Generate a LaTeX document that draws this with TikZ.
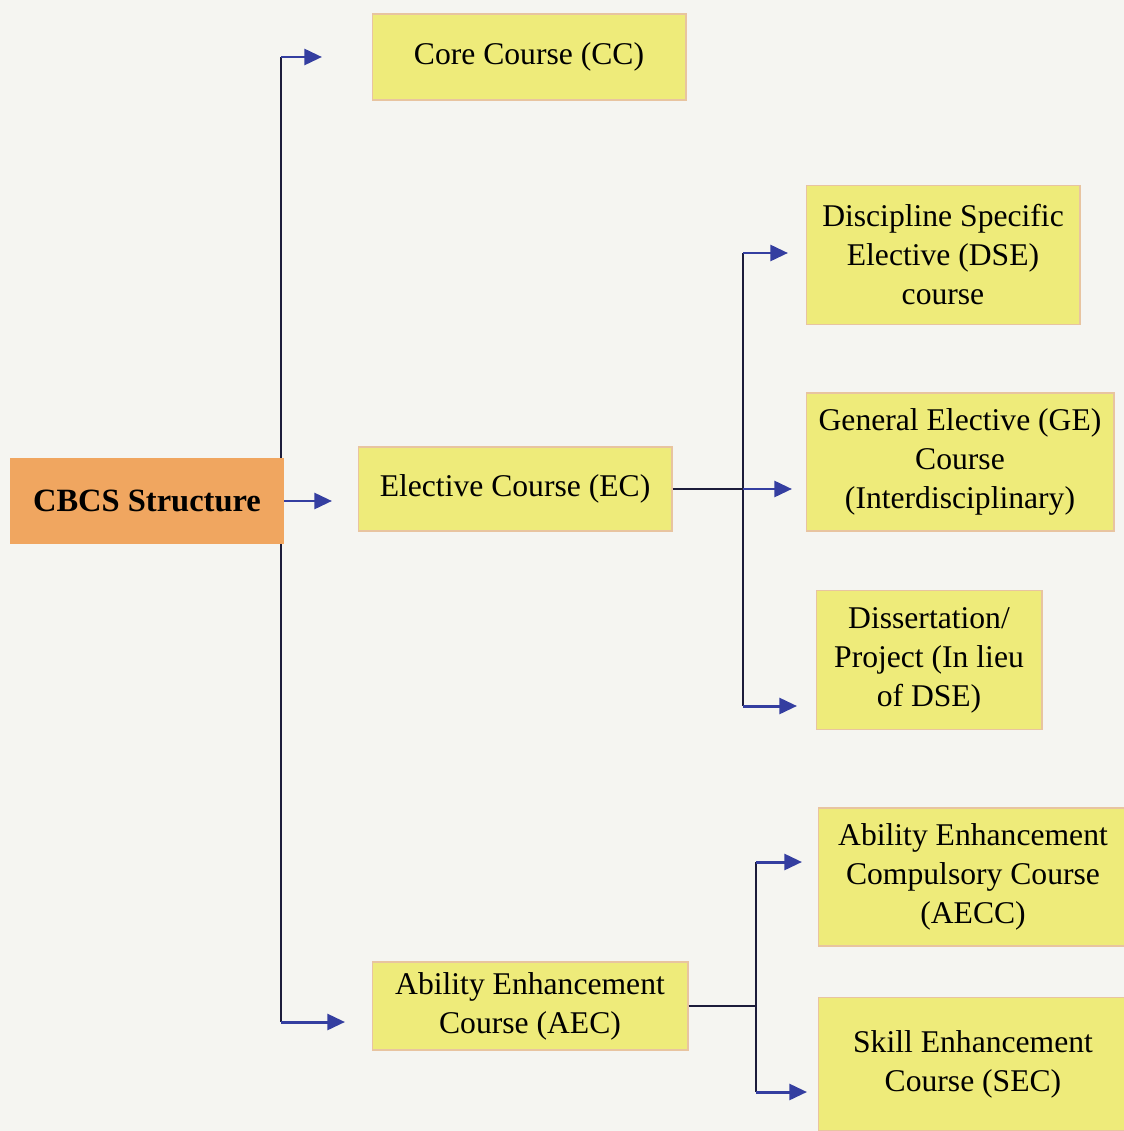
\documentclass[tikz,border=0pt]{standalone}
\usepackage{fontspec}
\setmainfont{Liberation Serif}
\usetikzlibrary{arrows.meta}
\definecolor{paper}{RGB}{245,245,241}
\definecolor{boxyellow}{RGB}{238,235,122}
\definecolor{boxedge}{RGB}{232,196,160}
\definecolor{rootorange}{RGB}{240,166,96}
\definecolor{linedark}{RGB}{28,28,58}
\definecolor{arrowblue}{RGB}{52,62,160}

\begin{document}
\begin{tikzpicture}[x=0.02cm,y=-0.02cm]
\tikzstyle{course}=[rectangle,align=center,draw=boxedge,fill=boxyellow,line width=0.6pt,inner sep=0pt,font=\fontsize{18}{22.2}\selectfont]
\tikzstyle{root}=[rectangle,align=center,fill=rootorange,inner sep=0pt,minimum width=5.48cm,minimum height=1.74cm,font=\fontsize{18.5}{22}\selectfont\bfseries]
\tikzstyle{trunk}=[draw=linedark,line width=1.3pt]
\tikzstyle{branch}=[-{Triangle[length=10pt,width=9pt]},draw=arrowblue,line width=1.7pt]

\useasboundingbox[fill=paper] (0,0) rectangle (1124,1131);

% junction points
\coordinate (trunk_top) at (281,57);
\coordinate (trunk_bottom) at (281,1022);
\coordinate (core_tip) at (322,57);
\coordinate (cbcs_tip) at (332,501);
\coordinate (ability_tip) at (345,1022);
\coordinate (ec_split) at (743,489);
\coordinate (dse_split) at (743,253);
\coordinate (diss_split) at (743,706);
\coordinate (dse_tip) at (788,253);
\coordinate (ge_tip) at (792,489);
\coordinate (diss_tip) at (797,706);
\coordinate (aec_split) at (756,1006);
\coordinate (aecc_split) at (756,862);
\coordinate (sec_split) at (756,1092);
\coordinate (aecc_tip) at (802,862);
\coordinate (sec_tip) at (807,1092);

\draw[trunk] (trunk_top)--(trunk_bottom);

\node[root] (cbcs) at (147,501) {CBCS Structure};
\node[course,minimum width=6.28cm,minimum height=1.72cm] (core) at (529,57) {Core Course (CC)};
\node[course,minimum width=6.28cm,minimum height=1.68cm] (elective) at (515,489) {Elective Course (EC)};
\node[course,minimum width=6.32cm,minimum height=1.76cm] (ability) at (530,1006) {Ability Enhancement\\Course (AEC)};
\node[course,minimum width=5.48cm,minimum height=2.78cm] (dse) at (943,255) {Discipline Specific\\Elective (DSE)\\course};
\node[course,minimum width=6.16cm,minimum height=2.76cm] (ge) at (960,462) {General Elective (GE)\\Course\\(Interdisciplinary)};
\node[course,minimum width=4.52cm,minimum height=2.78cm] (dissertation) at (929,660) {Dissertation/\\Project (In lieu\\of DSE)};
\node[course,minimum width=6.2cm,minimum height=2.76cm] (aecc) at (973,877) {Ability Enhancement\\Compulsory Course\\(AECC)};
\node[course,minimum width=6.2cm,minimum height=2.66cm] (sec) at (973,1064) {Skill Enhancement\\Course (SEC)};

\draw[branch] (trunk_top)--(core_tip);
\draw[branch] (cbcs.east)--(cbcs_tip);
\draw[branch] (trunk_bottom)--(ability_tip);

\draw[trunk] (elective.east)--(ec_split);
\draw[trunk] (dse_split)--(diss_split);
\draw[branch] (dse_split)--(dse_tip);
\draw[branch] (ec_split)--(ge_tip);
\draw[branch] (diss_split)--(diss_tip);

\draw[trunk] (ability.east)--(aec_split);
\draw[trunk] (aecc_split)--(sec_split);
\draw[branch] (aecc_split)--(aecc_tip);
\draw[branch] (sec_split)--(sec_tip);

\end{tikzpicture}
\end{document}
